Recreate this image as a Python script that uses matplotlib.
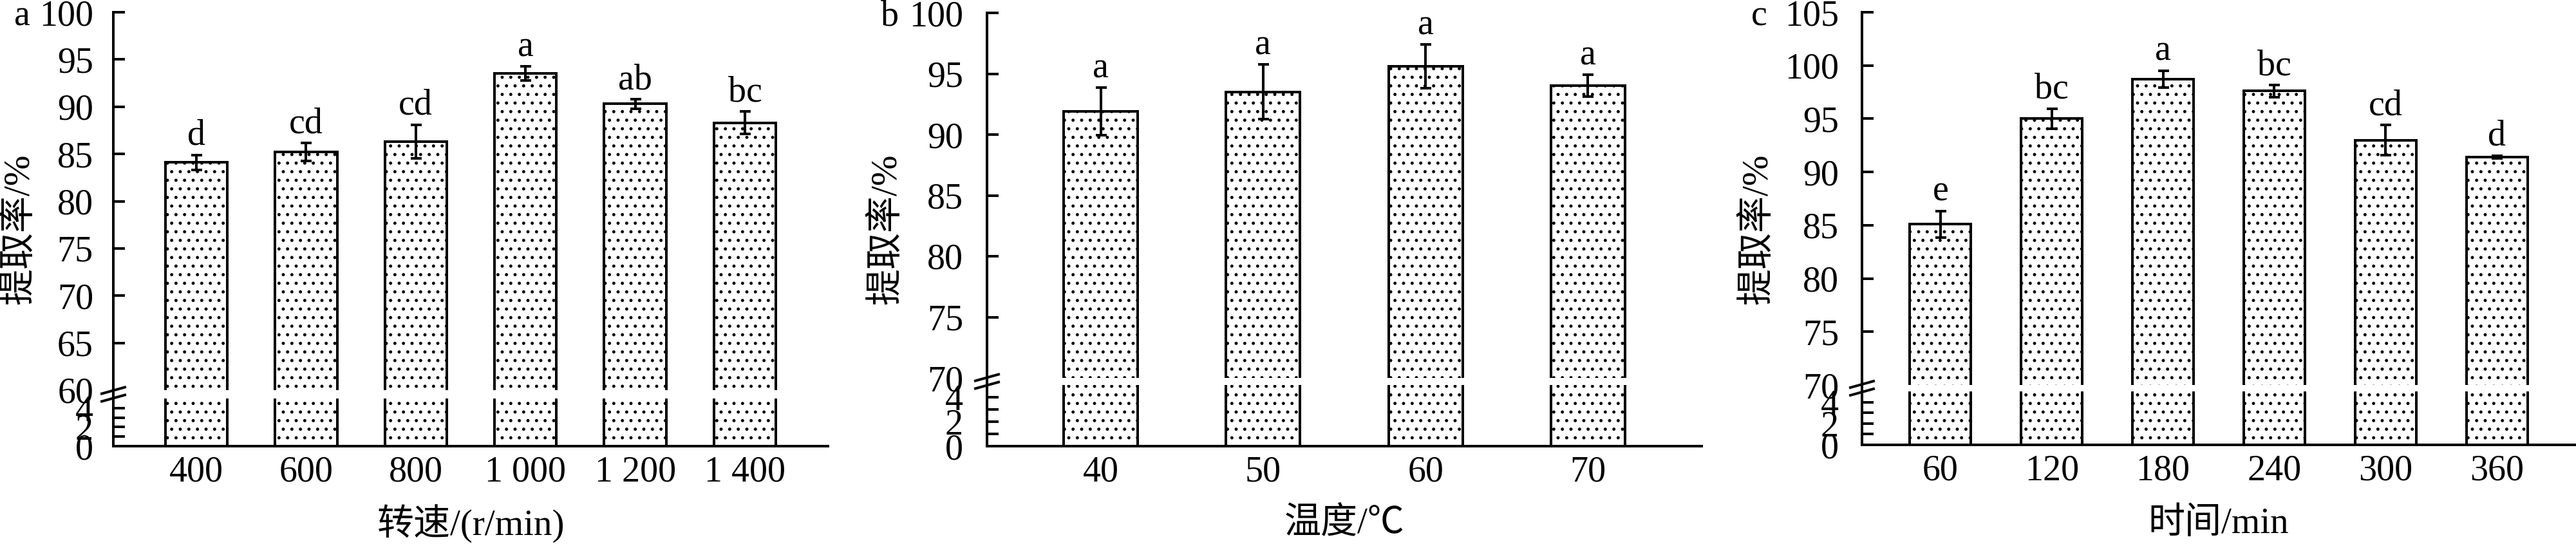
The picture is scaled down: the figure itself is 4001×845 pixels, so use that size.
import numpy as np
import matplotlib
matplotlib.use('Agg')
import matplotlib.pyplot as plt
from matplotlib.lines import Line2D

DPI = 80
P = 72 / DPI  # points per pixel

plt.rcParams['font.family'] = ['Liberation Serif', 'Noto Sans CJK SC']
plt.rcParams['hatch.color'] = 'black'
plt.rcParams['hatch.linewidth'] = 2.0

# a: stirring speed
speed_labels = ['400', '600', '800', '1 000', '1 200', '1 400']
speed_mean = [84.1, 85.2, 86.3, 93.5, 90.3, 88.3]
speed_err = [0.8, 0.95, 1.8, 0.75, 0.5, 1.2]
speed_sig = ['d', 'cd', 'cd', 'a', 'ab', 'bc']

# b: temperature
temp_labels = ['40', '50', '60', '70']
temp_mean = [91.9, 93.5, 95.6, 94.0]
temp_err = [1.95, 2.25, 1.8, 0.9]
temp_sig = ['a', 'a', 'a', 'a']

# c: time
time_labels = ['60', '120', '180', '240', '300', '360']
time_mean = [85.1, 95.0, 98.7, 97.6, 93.0, 91.4]
time_err = [1.25, 0.95, 0.8, 0.55, 1.4, 0.15]
time_sig = ['e', 'bc', 'a', 'bc', 'cd', 'd']

W, H = 4001, 845
LW = 4 * P        # line width, 4 px
FS = 56 * P       # tick / letter font
LFS = 57 * P      # axis label font

fig = plt.figure(figsize=(W / DPI, H / DPI), dpi=DPI)


def fx(px):
    return px / W


def fy(py):
    return 1 - py / H


def box(x0, x1, ytop, ybot):
    return [fx(x0), fy(ybot), (x1 - x0) / W, (ybot - ytop) / H]


def panel(x0, x1, up_top, up_bot, low_top, low_bot, ylo, yhi, labels, mean, err, sig,
          width, margin, tag, tag_x, xlabel, ylab_x, pad):
    ax = fig.add_axes(box(x0, x1, up_top, up_bot))
    axl = fig.add_axes(box(x0, x1, low_top, low_bot))
    x = np.arange(len(labels))
    for a in (ax, axl):
        a.bar(x, mean, width, color='white', edgecolor='black', linewidth=LW, hatch='.')
        a.spines['top'].set_visible(False)
        a.spines['right'].set_visible(False)
        a.spines['left'].set_linewidth(LW)
        a.spines['bottom'].set_linewidth(LW)
        a.tick_params(axis='y', which='both', direction='in', length=18 * P, width=LW,
                      labelsize=FS, pad=pad * P)
        a.set_xlim(-margin, len(labels) - 1 + margin)
    ax.spines['bottom'].set_visible(False)
    ax.tick_params(axis='x', bottom=False, labelbottom=False)
    ax.errorbar(x, mean, yerr=err, fmt='none', ecolor='black', elinewidth=LW,
                capsize=8.5 * P, capthick=LW)
    ax.set_ylim(ylo, yhi)
    ax.set_yticks(np.arange(ylo, yhi + 1, 5))
    ax.yaxis.get_major_ticks()[0].tick1line.set_visible(False)
    for xi, m, e, s in zip(x, mean, err, sig):
        ax.annotate(s, (xi, m + e), xytext=(0, 16 * P), textcoords='offset points',
                    ha='center', va='baseline', fontsize=FS)

    axl.set_ylim(0, 5)
    axl.set_yticks([0, 2, 4])
    axl.set_yticks([1, 3], minor=True)
    axl.set_xticks(x, labels)
    axl.tick_params(axis='x', length=0, labelsize=FS, pad=14 * P)

    # axis break: join the two spines and draw the slashes
    mid = (up_bot + low_top) / 2
    fig.add_artist(Line2D([fx(x0), fx(x0)], [fy(up_bot), fy(low_top)], color='black', lw=LW))
    for dy in (-6, 6):
        fig.add_artist(Line2D([fx(x0 - 18), fx(x0 + 18)], [fy(mid + dy + 5), fy(mid + dy - 5)],
                              color='black', lw=LW))

    fig.text(fx(ylab_x), fy(356), '提取率/%', rotation=90, ha='center', va='center', fontsize=LFS)
    fig.text(fx(tag_x), fy(up_top), tag, ha='left', va='center_baseline', fontsize=FS)
    fig.text(fx((x0 + x1) / 2), fy(814), xlabel, ha='center', va='center', fontsize=LFS)


panel(176, 1286, 19, 606, 619, 693, 60, 100, speed_labels, speed_mean, speed_err, speed_sig,
      0.565, 0.757, 'a', 22, '转速/(r/min)', 29, 31)
panel(1533, 2643, 20, 587, 598, 693, 70, 100, temp_labels, temp_mean, temp_err, temp_sig,
      0.456, 0.70, 'b', 1368, '温度/℃', 1376, 37)
panel(2892, 4000, 19, 598, 608, 691, 70, 105, time_labels, time_mean, time_err, time_sig,
      0.55, 0.705, 'c', 2720, '时间/min', 2729, 36)

fig.savefig('out.png', dpi=DPI)
